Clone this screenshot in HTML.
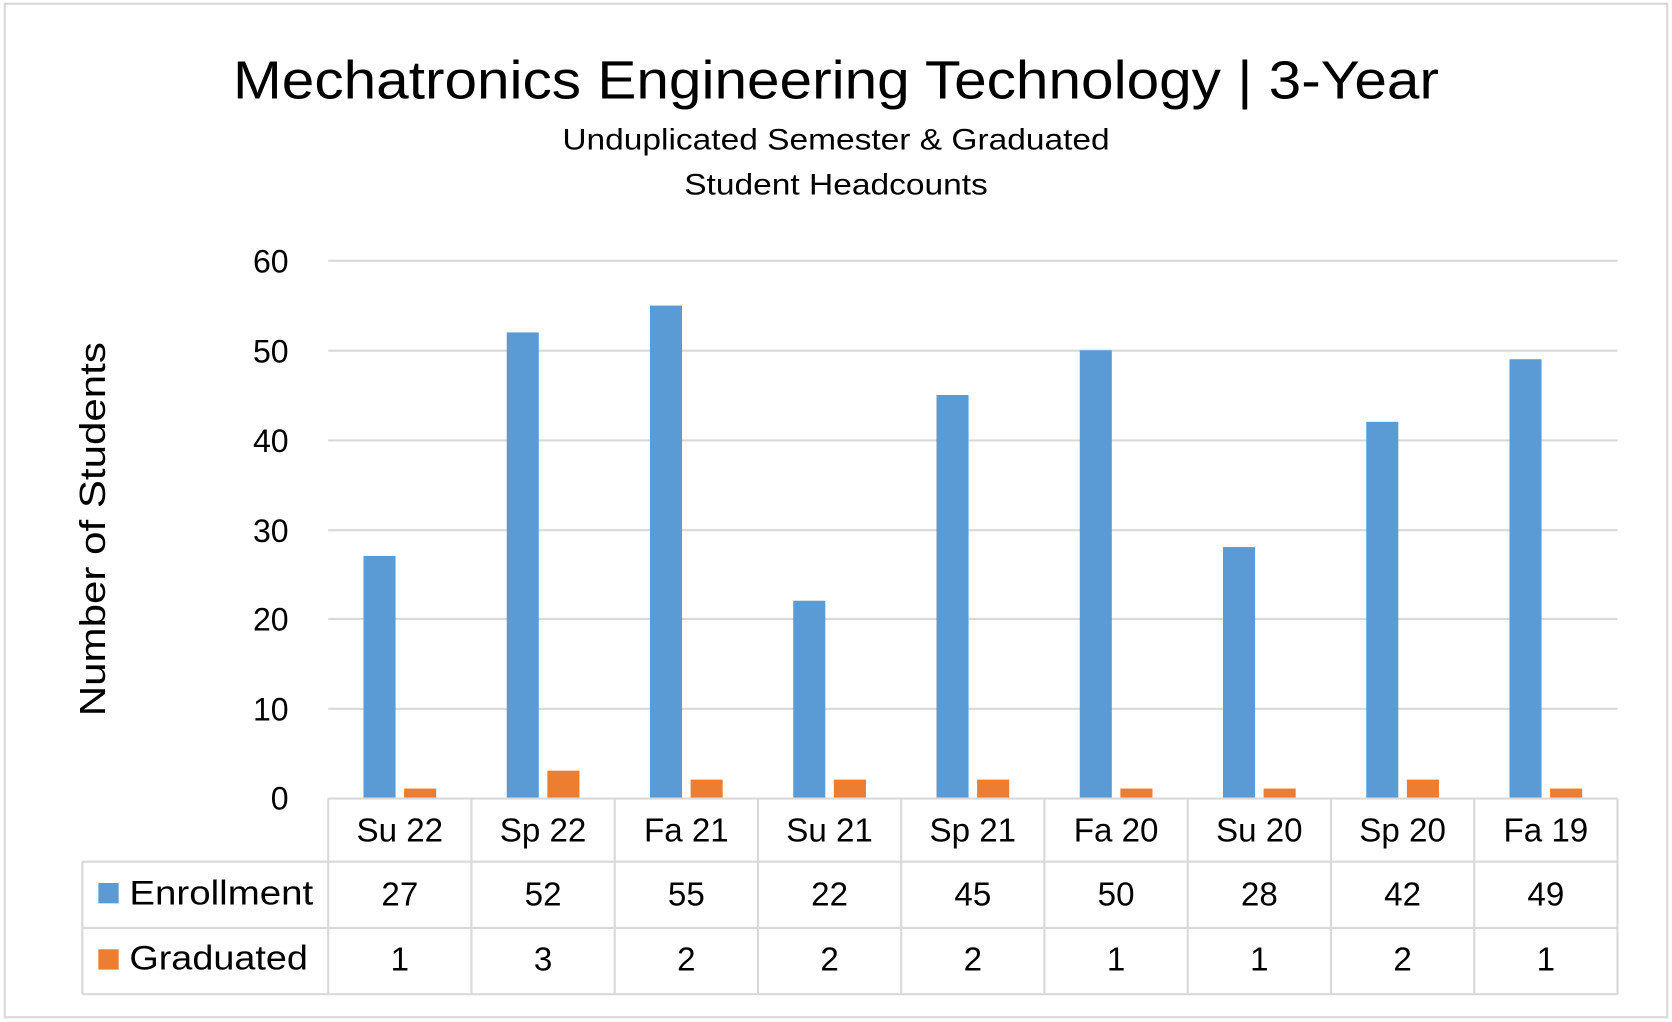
<!DOCTYPE html>
<html><head><meta charset="utf-8"><style>
html,body{margin:0;padding:0;background:#fff;}
svg{display:block;}
text{font-family:"Liberation Sans",sans-serif;fill:#000;}
</style></head><body>
<svg width="1672" height="1022" viewBox="0 0 1564 956" preserveAspectRatio="none" xmlns="http://www.w3.org/2000/svg">
<rect x="0" y="0" width="1564" height="956" fill="#fff"/>
<rect x="4.5" y="3.5" width="1555" height="948" fill="none" stroke="#d9d9d9" stroke-width="2"/>
<text x="782" y="92" font-size="50" text-anchor="middle" textLength="1128" lengthAdjust="spacingAndGlyphs">Mechatronics Engineering Technology | 3-Year</text>
<text x="782" y="140" font-size="28" text-anchor="middle" textLength="512" lengthAdjust="spacingAndGlyphs">Unduplicated Semester &amp; Graduated</text>
<text x="782" y="182" font-size="28" text-anchor="middle" textLength="284" lengthAdjust="spacingAndGlyphs">Student Headcounts</text>
<g stroke="#d9d9d9" stroke-width="2">
<line x1="307" y1="244" x2="1513" y2="244"/>
<line x1="307" y1="328" x2="1513" y2="328"/>
<line x1="307" y1="412" x2="1513" y2="412"/>
<line x1="307" y1="496" x2="1513" y2="496"/>
<line x1="307" y1="579" x2="1513" y2="579"/>
<line x1="307" y1="663" x2="1513" y2="663"/>
</g>
<g font-size="30" text-anchor="end">
<text x="270" y="255">60</text><text x="270" y="339">50</text><text x="270" y="423">40</text>
<text x="270" y="507">30</text><text x="270" y="590">20</text><text x="270" y="674">10</text><text x="270" y="757">0</text>
</g>
<text transform="translate(98,495) rotate(-90)" font-size="34" text-anchor="middle" textLength="350" lengthAdjust="spacingAndGlyphs">Number of Students</text>
<g id="bars"></g>
<g stroke="#d9d9d9" stroke-width="2" fill="none">
<line x1="307" y1="747" x2="1513" y2="747"/>
<line x1="77" y1="806" x2="1513" y2="806"/>
<line x1="77" y1="868" x2="1513" y2="868"/>
<line x1="77" y1="930" x2="1513" y2="930"/>
<line x1="77" y1="806" x2="77" y2="930"/>
<line x1="307" y1="747" x2="307" y2="930"/><line x1="441" y1="747" x2="441" y2="930"/>
<line x1="575" y1="747" x2="575" y2="930"/><line x1="709" y1="747" x2="709" y2="930"/>
<line x1="843" y1="747" x2="843" y2="930"/><line x1="977" y1="747" x2="977" y2="930"/>
<line x1="1111" y1="747" x2="1111" y2="930"/><line x1="1245" y1="747" x2="1245" y2="930"/>
<line x1="1379" y1="747" x2="1379" y2="930"/><line x1="1513" y1="747" x2="1513" y2="930"/>
</g>
<rect x="92" y="826" width="19" height="19" fill="#5b9bd5"/>
<rect x="92" y="888" width="19" height="19" fill="#ed7d31"/>
<text x="121" y="846" font-size="32" textLength="172" lengthAdjust="spacingAndGlyphs">Enrollment</text>
<text x="121" y="907" font-size="32" textLength="167" lengthAdjust="spacingAndGlyphs">Graduated</text>
<g id="tbl" font-size="31" text-anchor="middle"></g>
<script>
var cats=["Su 22","Sp 22","Fa 21","Su 21","Sp 21","Fa 20","Su 20","Sp 20","Fa 19"];
var en=[27,52,55,22,45,50,28,42,49], gr=[1,3,2,2,2,1,1,2,1];
var ns="http://www.w3.org/2000/svg",b=document.getElementById("bars"),t=document.getElementById("tbl");
var y0=746,u=502/60;
function r(x,y,w,h,c){var e=document.createElementNS(ns,"rect");e.setAttribute("x",x);e.setAttribute("y",y);e.setAttribute("width",w);e.setAttribute("height",h);e.setAttribute("fill",c);b.appendChild(e);}
function tx(x,y,s){var e=document.createElementNS(ns,"text");e.setAttribute("x",x);e.setAttribute("y",y);e.textContent=s;t.appendChild(e);}
for(var i=0;i<9;i++){var c=374+134*i;
r(c-34,y0-en[i]*u,30,en[i]*u,"#5b9bd5");r(c+4,y0-gr[i]*u,30,gr[i]*u,"#ed7d31");
tx(c,787,cats[i]);tx(c,847,en[i]);tx(c,908,gr[i]);}
</script>
</svg>
</body></html>
